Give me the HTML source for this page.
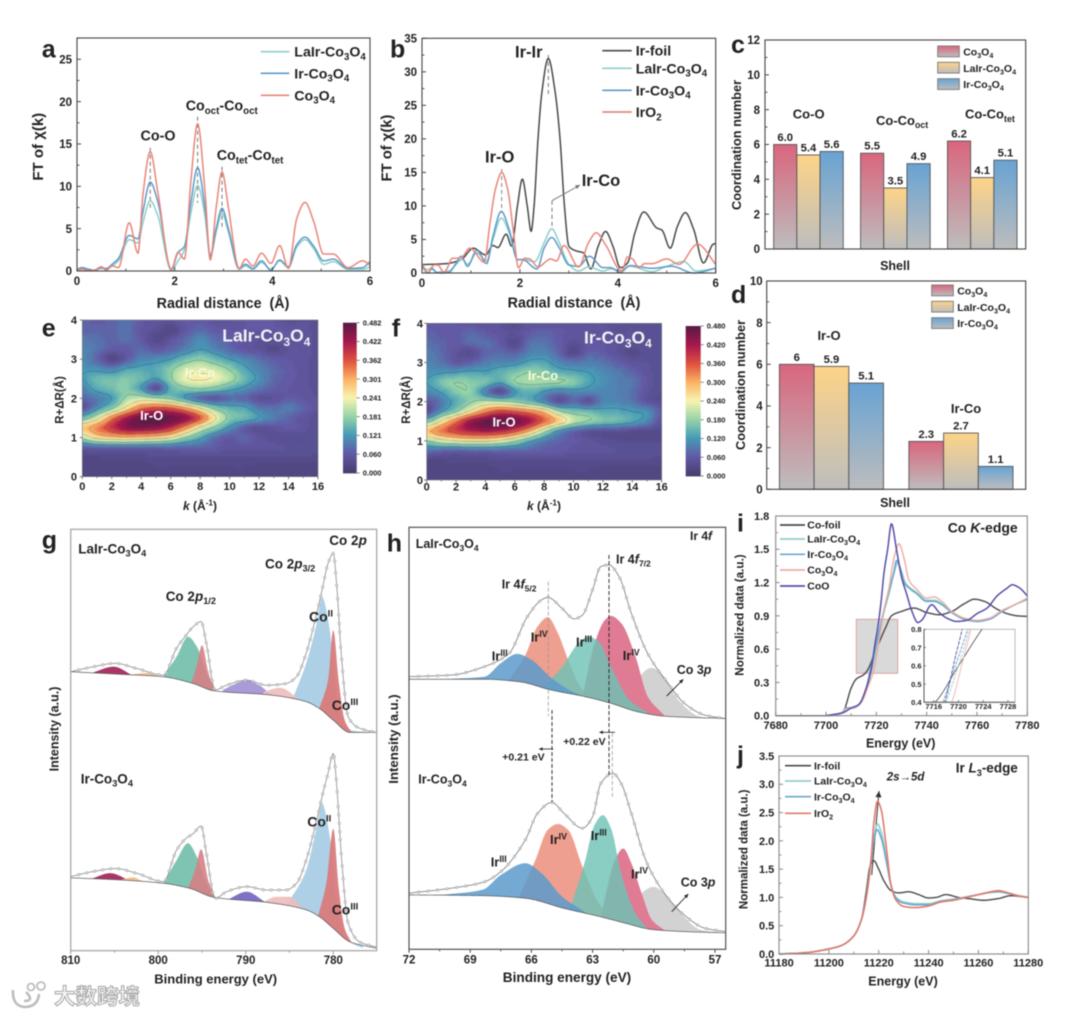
<!DOCTYPE html>
<html lang="en">
<head>
<meta charset="utf-8">
<title>Composite characterization figure</title>
<style>
html,body{margin:0;padding:0;background:#fff;width:1080px;height:1016px;overflow:hidden}
svg{display:block;filter:blur(0.4px)}
text{font-family:"Liberation Sans","Noto Sans CJK SC",sans-serif;fill:#222;white-space:pre}
</style>
</head>
<body>
<svg id="fig" xmlns="http://www.w3.org/2000/svg" width="1080" height="1016" viewBox="0 0 1080 1016">
<defs>
<linearGradient id="gradRed" x1="0" y1="0" x2="0" y2="1"><stop offset="0" stop-color="#d9667e"/><stop offset="1" stop-color="#bdbdbd"/></linearGradient>
<linearGradient id="gradYellow" x1="0" y1="0" x2="0" y2="1"><stop offset="0" stop-color="#fdd488"/><stop offset="1" stop-color="#bdbdbd"/></linearGradient>
<linearGradient id="gradBlue" x1="0" y1="0" x2="0" y2="1"><stop offset="0" stop-color="#68a3d3"/><stop offset="1" stop-color="#bdbdbd"/></linearGradient>
<filter id="heatBlur"><feGaussianBlur stdDeviation="1"/></filter>
<clipPath id="clipE"><rect x="82.3" y="320" width="235.7" height="156.7"/></clipPath>
<clipPath id="clipF"><rect x="426.7" y="323.3" width="235" height="156.7"/></clipPath>
<clipPath id="clipInset"><rect x="924" y="629.3" width="91" height="73"/></clipPath>
</defs>
</svg>
<script>
// ---------- panel a ----------
const aR = [0,.1,.25,.35,.5,.6,.72,.85,1.07,1.25,1.35,1.5,1.65,1.93,2.07,2.2,2.33,2.47,2.62,2.73,2.85,2.97,3.1,3.32,3.45,3.6,3.78,3.97,4.15,4.33,4.5,4.67,4.85,5.05,5.25,5.55,5.85,6];
const aCo3O4 = [.1,.2,.05,.1,.5,.1,.6,.4,5.7,2.1,9,14.1,9.5,.2,2.2,1.4,10.5,17.4,9.5,1.3,7.5,11.7,7.5,.3,1.4,.6,2.1,.9,3,.3,6.2,8.1,5.8,2,2,.4,1.2,.7];
const aIrCo = [.2,.4,.2,.1,.4,.3,.8,1.5,4.2,3.8,7,10.5,8.3,.2,2.2,2.9,8,12.2,7.5,1.8,5,7.4,5,.3,.8,.3,1.2,.1,1.3,.5,3.1,4,2.9,1.2,1.4,.3,.4,1.1];
const aLaIr = [.1,.3,.1,.05,.3,.2,.6,1.2,3.7,3.3,5.7,8.3,6.6,.1,1.2,2.5,6.8,10.1,6.5,1.6,4.6,6.8,4.6,.2,.6,.2,1,.2,1.2,.4,2.8,3.7,2.6,.8,1.1,.2,.2,.5];
const aXTicks = [0,2,4,6], aXMinor = [1,3,5];
const aYTicks = [0,5,10,15,20,25], aYMinor = [2.5,7.5,12.5,17.5,22.5,27.5];
// ---------- panel b ----------
const bFoil = [[0,1.25],[.5,1.4],[.8,2],[1.05,3.7],[1.3,2.7],[1.45,4.1],[1.55,3.8],[1.72,5.8],[1.83,4],[1.95,10],[2.05,14],[2.15,10],[2.23,6.2],[2.29,10],[2.37,20],[2.45,27],[2.58,32],[2.72,27],[2.82,20],[2.91,10],[3,4],[3.15,3.3],[3.3,3],[3.45,.6],[3.6,4],[3.75,6.2],[3.9,4],[4.05,.8],[4.2,1.5],[4.35,6],[4.53,9.1],[4.8,6.7],[4.9,6.4],[5.07,3.7],[5.22,7],[5.38,9],[5.55,6.5],[5.75,1.5],[5.95,4.3],[6,4.4]];
const bIrO2 = [[0,1.3],[.12,.1],[.25,1.2],[.32,1.2],[.45,.1],[.5,.5],[.62,2.2],[.7,2.2],[.82,2.4],[.97,3.7],[1.1,3],[1.15,2.4],[1.27,1.6],[1.39,7.5],[1.5,12.5],[1.63,15],[1.75,12.5],[1.87,6],[1.97,.8],[2.1,2.2],[2.2,2.1],[2.37,.9],[2.55,1.8],[2.62,2.1],[2.75,1.8],[2.9,4.1],[3.2,.9],[3.4,4.5],[3.56,6],[3.75,4.2],[4.08,.3],[4.2,2.4],[4.3,2.1],[4.43,.8],[4.55,1.4],[4.7,1.4],[5,2.1],[5.25,1.3],[5.63,4.3],[6,1.3]];
const bIrCo = [[0,1],[.12,0],[.2,.6],[.3,.1],[.4,0],[.55,.1],[.7,1.5],[.8,2.5],[.93,1],[1.12,3.4],[1.32,1.4],[1.45,5.5],[1.62,9.2],[1.78,6.5],[1.95,2],[2.05,2],[2.35,.6],[2.5,3.8],[2.65,5.3],[2.8,3.8],[3,1.2],[3.2,1],[3.42,2.5],[3.7,.8],[3.85,.8],[4.05,.1],[4.25,1.1],[4.7,.7],[5.1,1],[5.55,0],[6,.7]];
const bLaIr = [[0,.9],[.12,.5],[.2,.8],[.3,.1],[.4,.2],[.55,.3],[.7,1.3],[.82,2.1],[.93,1.3],[1.12,3],[1.32,1.8],[1.45,5],[1.62,8.2],[1.78,6],[1.95,2],[2.05,2],[2.3,1.7],[2.5,4.6],[2.65,6.6],[2.8,4.6],[3,1.3],[3.2,.3],[3.4,.9],[3.7,.3],[3.85,.6],[4.05,.4],[4.25,1],[4.7,.2],[5,1],[5.35,1.7],[5.6,.3],[6,.7]];
const bYTicks = [0,5,10,15,20,25,30,35], bYMinor = [2.5,7.5,12.5,17.5,22.5,27.5,32.5];
// ---------- panel c ----------
const cCategories = ["Co-O","Co-Co-oct","Co-Co-tet"];
const cCo3O4 = [6.0,5.5,6.2];
const cLaIr = [5.4,3.5,4.1];
const cIrCo = [5.6,4.9,5.1];
const cYTicks = [0,2,4,6,8,10,12], cYMinor = [1,3,5,7,9,11];
// ---------- panel d ----------
const dCategories = ["Ir-O","Ir-Co"];
const dCo3O4 = [6,2.3];
const dLaIr = [5.9,2.7];
const dIrCo = [5.1,1.1];
const dYTicks = [0,2,4,6,8,10], dYMinor = [1,3,5,7,9];
// ---------- panels e, f (wavelet maps, units 0.001) ----------
const mapK = [0,1,2,3,4,5,6,7,8,9,10,11,12,13,14,15,16];
const mapR = [4,3.75,3.5,3.25,3,2.75,2.5,2.25,2,1.75,1.5,1.25,1,.75,.5,.25,0];
const eZ = [
[70,60,70,80,60,50,50,60,60,50,55,55,55,55,40,45,40],
[70,70,70,80,55,40,25,55,75,60,55,55,55,55,55,50,40],
[90,80,70,80,60,30,50,75,105,80,65,55,45,45,55,50,40],
[100,85,60,60,75,55,70,95,120,100,75,55,45,30,45,50,40],
[105,70,25,60,100,105,120,155,175,150,120,100,80,60,55,50,40],
[115,110,95,125,130,135,170,215,225,210,175,130,100,75,60,50,40],
[120,150,155,165,150,120,175,235,245,235,200,150,110,75,60,50,40],
[95,135,155,170,120,40,140,170,180,165,135,110,85,65,55,50,40],
[70,90,120,190,210,190,170,120,70,50,75,70,45,45,60,55,45],
[45,110,170,260,340,370,360,310,240,170,140,130,90,80,90,70,45],
[150,220,330,420,470,480,470,440,360,250,170,150,120,90,70,50,40],
[280,330,390,440,450,440,400,320,230,170,110,60,40,50,60,50,40],
[200,260,280,290,280,270,240,180,130,80,55,70,50,40,35,40,40],
[60,70,70,70,70,70,70,70,70,60,50,50,50,50,45,45,40],
[25,25,30,30,30,35,35,35,35,35,35,35,35,35,35,35,30],
[22,22,22,22,22,25,25,25,25,25,25,25,22,22,22,22,22],
[25,25,25,25,25,25,25,25,25,25,25,25,25,25,25,25,25]];
const fZ = [
[60,60,55,50,50,45,30,50,50,50,50,45,45,40,45,40,35],
[70,60,60,75,60,50,45,60,70,60,50,50,50,45,45,40,35],
[80,70,60,75,80,60,30,80,85,60,40,55,55,45,45,40,35],
[90,75,50,35,70,75,65,95,100,70,30,65,60,45,30,40,35],
[100,85,55,65,90,100,105,130,130,100,85,95,85,65,50,45,35],
[110,115,120,130,125,140,160,180,165,140,130,120,105,90,70,50,35],
[120,160,180,170,160,130,180,190,190,185,170,130,110,95,85,55,35],
[100,125,165,175,95,35,115,145,115,90,105,100,100,95,80,50,35],
[55,90,135,175,200,190,175,145,100,45,75,45,100,100,85,50,35],
[35,115,175,255,330,375,360,330,280,190,160,150,130,130,120,110,60],
[160,250,340,430,470,480,470,420,350,280,210,180,160,150,130,100,45],
[290,340,380,410,420,410,370,300,200,110,70,45,40,40,35,35,35],
[180,220,240,250,250,230,190,130,90,70,60,50,40,35,35,35,35],
[80,70,60,70,70,70,70,70,60,60,50,50,50,45,45,40,40],
[25,25,30,30,30,35,35,35,35,35,35,35,35,35,35,35,30],
[22,22,22,22,22,25,25,25,25,25,25,25,22,22,22,22,22],
[25,25,25,25,25,25,25,25,25,25,25,25,25,25,25,25,25]];
const mapXTicks = [0,2,4,6,8,10,12,14,16], mapXMinor = [1,3,5,7,9,11,13,15];
const mapYTicks = [0,1,2,3,4];
const eBarLabels = ["0.482","0.422","0.362","0.301","0.241","0.181","0.121","0.060","0.000"];
const fBarLabels = ["0.480","0.420","0.360","0.300","0.240","0.180","0.120","0.060","0.000"];
// ---------- panel g (eV, intensity a.u. 0-100) ----------
const gTopEnv = [[810,66.2],[807.4,67.4],[804.9,68.2],[802.5,67],[799.4,65.4],[797.9,71.8],[796.8,74.9],[796,76.9],[795.1,78.1],[794.5,72.9],[793.5,61.9],[792.2,63],[789.9,64.2],[787.6,63],[785.4,63.4],[784.2,65],[783.1,70.6],[781.9,80],[781.2,86.4],[780.6,91.9],[780,94.3],[779.6,86.4],[779.1,70.6],[778.3,55.5],[777,52.8],[775.1,51.8]];
const gTopBase = [[810,66.2],[804.4,65.6],[799.4,65],[796,63.4],[793.7,61.7],[787.3,60.7],[783.1,59.1],[781.6,57.5],[780,54.7],[778.1,51.8],[775.1,51.8]];
const gTopSat1 = [[807.5,66],[805.1,67.4],[802.9,65.3]];
const gTopSat2 = [[803.2,65.5],[801.3,65.9],[799.8,65.1]];
const gTopP12a = [[799.4,65],[797.9,69.8],[796.6,74.5],[795.6,72.2],[794.5,65.8],[793.5,61.7]];
const gTopP12b = [[796.2,63.6],[795.6,67.7],[795,72.5],[794.3,66.2],[793.5,61.7]];
const gTopSat3 = [[792.6,61.9],[791.1,63.4],[789.9,64.2],[788.4,62.9],[787.1,60.7]];
const gTopSat4 = [[788,61.4],[786.1,62.4],[783.8,59.5]];
const gTopCoII = [[784.6,60],[783.1,68.2],[781.9,77.7],[781.3,84],[780.4,76.1],[779.5,57.9],[778.1,52.4],[776.2,51.8]];
const gTopCoIII = [[781.6,57.5],[780.6,64.2],[780,76.1],[779.4,64.2],[778.7,54.7],[777.9,51.8]];
const gBotEnv = [[810,17.6],[807.4,18.8],[804.9,19.5],[802.5,18.4],[799.4,16.4],[797.9,23.9],[796.8,26.7],[796,27.8],[795.1,29.6],[794.5,23.1],[793.5,12.4],[792.2,14],[789.9,15.2],[787.6,14.4],[785.4,14.4],[784.2,16],[783.1,21.5],[781.9,31],[781.2,37.3],[780.6,42.1],[780,46.8],[779.6,38.9],[779.1,23.1],[778.3,6.5],[777,2.1],[775.1,.9]];
const gBotBase = [[810,17.3],[804.4,16.8],[799.4,16],[796.4,14.8],[793.7,12.7],[787.3,11.4],[783.1,9.7],[781.6,8.1],[780,5.3],[778.1,2.1],[775.1,.6]];
const gBotSat1 = [[807.6,17.1],[805.5,18.4],[803.2,16.6]];
const gBotSat2 = [[804.4,16.8],[802.9,17.4],[801.7,16.4]];
const gBotP12a = [[799.4,16],[797.9,21.5],[796.6,25.5],[795.6,22.3],[794.5,16],[793.5,12.7]];
const gBotP12b = [[796.6,14.7],[795.8,19.1],[795.1,24.1],[794.3,16.8],[793.5,12.6]];
const gBotSat3 = [[792,12.2],[789.9,14],[787.8,11.6]];
const gBotSat4 = [[788,11.6],[786.5,12.8],[785,12.8],[783.5,10]];
const gBotCoII = [[785.2,11.2],[783.1,19.1],[781.9,29.4],[781.3,35],[780.4,27.1],[779.5,8.9],[778.1,2.1],[776.6,.6]];
const gBotCoIII = [[781.7,8.5],[780.8,16],[780,29],[779.4,15.2],[778.7,5.3],[777.9,1.9]];
const gXTicks = [810,800,790,780], gXMinor = [805,795,785];
// ---------- panel h (eV, intensity a.u. 0-100) ----------
const hTopEnv = [[72,64.6],[69.9,65],[68.3,67],[67.1,70.1],[66.2,78.8],[65.5,82.8],[65.2,83.4],[64.5,80.8],[63.9,78.3],[63.5,79.2],[63,85.2],[62.6,90.7],[62.2,91.1],[61.7,88.3],[61.1,79.6],[60.3,70.1],[59.3,63],[58.5,58.3],[57.5,55.5],[56.5,54.7]];
const hTopBase = [[72,64],[68.3,64],[66.6,63.4],[65,61.4],[63.4,59.9],[62.1,58.3],[60.8,56.3],[59.6,55.3],[58.5,55],[56.5,54.7]];
const hTopIr3a = [[69.9,64.1],[68.3,64.6],[67.5,67.8],[66.7,70],[66,68.6],[65,64.2],[64,61.1],[63.4,59.9]];
const hTopIr4a = [[67.1,63.7],[66.3,69.7],[65.7,76.5],[65.2,78.7],[64.7,74.9],[64.2,68.6],[63.5,61.5],[62.7,59.1]];
const hTopIr3b = [[65.5,61.8],[64.5,66.9],[63.7,72.5],[63.2,74.1],[62.7,72.9],[62.1,67],[61.2,59.1],[60.3,56.1]];
const hTopIr4b = [[63.5,59.9],[62.9,72.5],[62.4,78],[62.1,79],[61.6,77.3],[60.9,69.4],[60.3,59.9],[59.5,55.5]];
const hTopCo3p = [[61.2,57.1],[60.7,64.6],[60.1,66.7],[59.5,64.6],[58.8,59.1],[57.7,55.1],[56.8,54.7]];
const hBotEnv = [[72,13.3],[69.9,14.5],[68.3,16],[67.5,18.4],[66.3,25.9],[65.7,32.2],[65,34.8],[64.4,32.2],[63.5,28.7],[63,31.4],[62.6,39.3],[62,41.7],[61.6,39.3],[61.1,32.2],[60.4,21.2],[59.6,14.1],[58.5,8.1],[57.5,5],[56.5,4.2]];
const hBotBase = [[72,12.9],[68.3,12.7],[66.3,12.1],[64.4,9.7],[62.6,7.7],[61.4,6.2],[60.1,4.7],[58.5,4.2],[56.5,3.9]];
const hBotIr3a = [[70.4,12.9],[68.4,14.1],[67.5,17.6],[66.3,20.4],[65.5,18],[64.5,12.5],[63.4,8.9]];
const hBotIr4a = [[66.6,12.5],[65.8,21.2],[65.2,28.3],[64.7,29.7],[64.2,28.3],[63.5,19.6],[62.7,10.9],[62.1,7.3]];
const hBotIr3b = [[64.1,9.7],[63.4,20.4],[62.9,29.5],[62.5,31.8],[62.1,28.7],[61.6,18],[60.9,8.5],[60.3,4.9]];
const hBotIr4b = [[62.6,7.7],[61.9,21.2],[61.5,23.9],[61.1,20.4],[60.6,13.3],[60.1,7],[59.5,4.6]];
const hBotCo3p = [[61.2,6.2],[60.6,13.3],[60,14.8],[59.5,13.3],[58.8,9.3],[57.7,4.6],[56.8,4]];
const hXTicks = [72,69,66,63,60,57], hXMinor = [70.5,67.5,64.5,61.5,58.5];
// ---------- panel i ----------
const iFoil = [[7680,0],[7700,0],[7707,.03],[7708,.1],[7710,.25],[7712,.33],[7715,.37],[7716.2,.4],[7720,.6],[7723.8,.8],[7726,.9],[7730,.94],[7735,.97],[7740,.93],[7745,.91],[7750,.94],[7755,1.01],[7759,1.05],[7763,1.03],[7768,.96],[7772,.92],[7776,.9],[7780,.895]];
const iLaIr = [[7700,0],[7706,.02],[7708,.06],[7711,.07],[7714,.12],[7716,.24],[7718,.4],[7720,.6],[7721.8,.8],[7723,.93],[7725,1.1],[7727,1.28],[7728.5,1.38],[7730,1.3],[7731.5,1.2],[7733,1.16],[7736,1.11],[7740,1.04],[7743,1.04],[7746,1.01],[7750,.93],[7755,.87],[7760,.85],[7765,.87],[7770,.94],[7775,1],[7780,1.05]];
const iIrCo = [[7700,0],[7706,.02],[7708,.07],[7711,.07],[7714,.13],[7716,.25],[7717.5,.4],[7719.5,.6],[7721.5,.8],[7723,.95],[7725,1.12],[7727,1.3],[7728,1.4],[7729.5,1.33],[7731,1.2],[7733,1.15],[7736,1.1],[7740,1.03],[7743,1.03],[7746,1],[7750,.93],[7755,.87],[7760,.85],[7765,.87],[7770,.94],[7775,1],[7780,1.05]];
const iCo3O4 = [[7700,0],[7706,.02],[7708,.06],[7711,.07],[7714,.12],[7717,.28],[7718.9,.4],[7720.5,.6],[7722,.8],[7723,.95],[7725,1.15],[7727,1.42],[7729,1.55],[7731,1.42],[7733,1.22],[7736,1.14],[7740,1.06],[7743,1.07],[7746,1.03],[7750,.94],[7755,.88],[7760,.86],[7765,.88],[7770,.95],[7775,1],[7780,1.06]];
const iCoO = [[7700,0],[7707,.03],[7710,.07],[7713,.1],[7716,.25],[7717.8,.4],[7719.5,.65],[7720.6,.8],[7722,1.05],[7723,1.28],[7724.5,1.5],[7726,1.73],[7728,1.5],[7730,1.25],[7732,1.1],[7734,.95],[7736.5,.84],[7738,.86],[7742,1],[7745,.93],[7748,.88],[7752,.85],[7756,.86],[7760,.92],[7764,.97],[7768,1.08],[7772,1.15],[7774,1.18],[7777,1.15],[7780,1.08]];
const iXTicks = [7680,7700,7720,7740,7760,7780], iXMinor = [7690,7710,7730,7750,7770];
const iYTicks = [0,.3,.6,.9,1.2,1.5,1.8], iYMinor = [.15,.45,.75,1.05,1.35,1.65];
const insetXTicks = [7716,7720,7724,7728];
const insetYTicks = [.4,.5,.6,.7,.8];
// ---------- panel j ----------
const jFoil = [[11180,0],[11190,.02],[11200,.09],[11205,.15],[11210,.32],[11213,.6],[11215,1.1],[11216.5,1.55],[11218,1.65],[11220,1.5],[11222,1.3],[11225,1.12],[11228,1.08],[11232,1.1],[11236,1.05],[11240,.99],[11243,1],[11247,1.05],[11252,1],[11256,.98],[11262,.95],[11268,.98],[11273,1.03],[11280,1]];
const jLaIr = [[11180,0],[11190,.02],[11200,.09],[11205,.15],[11210,.32],[11213,.6],[11215,1],[11217,1.7],[11218,2.05],[11219.5,2.3],[11221,2.15],[11223,1.7],[11225,1.2],[11227,1],[11230,.92],[11235,.89],[11240,.89],[11245,.94],[11250,.97],[11255,1.01],[11260,1.05],[11265,1.09],[11268,1.1],[11272,1.07],[11276,1.03],[11280,1]];
const jIrCo = [[11180,0],[11190,.02],[11200,.09],[11205,.15],[11210,.32],[11213,.6],[11215,1],[11217,1.65],[11218,1.98],[11219.3,2.2],[11221,2.05],[11223,1.65],[11225,1.2],[11227,.98],[11230,.9],[11235,.87],[11240,.87],[11245,.93],[11250,.96],[11255,1],[11260,1.05],[11265,1.09],[11268,1.1],[11272,1.07],[11276,1.03],[11280,1]];
const jIrO2 = [[11180,0],[11190,.02],[11200,.09],[11205,.15],[11210,.32],[11213,.6],[11215,1],[11217,1.7],[11218,2.3],[11219.5,2.7],[11221,2.55],[11223,1.9],[11225,1.2],[11227,.95],[11230,.84],[11235,.82],[11240,.85],[11245,.92],[11250,.95],[11255,1],[11260,1.05],[11265,1.1],[11268,1.12],[11272,1.08],[11276,1.03],[11280,1]];
const jXTicks = [11180,11200,11220,11240,11260,11280], jXMinor = [11190,11210,11230,11250,11270];
const jYTicks = [0,.5,1,1.5,2,2.5,3,3.5], jYMinor = [.25,.75,1.25,1.75,2.25,2.75,3.25];

// ---------- helpers ----------
const NS = "http://www.w3.org/2000/svg";
const fig = document.getElementById("fig");
const TEAL = "#8ccfca", BLUE = "#5f9ac8", RED = "#e8867a", DARK = "#4a4a4a";
function mk(tag, parent, attrs, name){
  const el = document.createElementNS(NS, tag);
  for (const k in attrs) el.setAttribute(k, attrs[k]);
  
  
  parent.appendChild(el);
  return el;
}
function grp(parent, name, attrs){ return mk("g", parent, attrs || {}, name); }
function scale(d0, d1, r0, r1){ return v => r0 + (v - d0) * (r1 - r0) / (d1 - d0); }
// rich text: _{sub} ^{sup} *italic*
function label(parent, name, str, x, y, size, o){
  o = o || {};
  const t = mk("text", parent, {x: x, y: y, "font-size": size, "font-weight": o.weight || "bold", "text-anchor": o.anchor || "start"}, name);
  if (o.fill) t.style.fill = o.fill;
  if (o.rotate) t.setAttribute("transform", "rotate(-90 " + x + " " + y + ")");
  let off = 0;
  const toks = str.match(/_\{[^}]*\}|\^\{[^}]*\}|\*[^*]+\*|[^_^*]+/g) || [];
  toks.forEach(tok => {
    let txt = tok, tgt = 0, fs = size, st = "normal";
    if (tok[0] === "_") { txt = tok.slice(2, -1); tgt = size * .24; fs = size * .68; }
    else if (tok[0] === "^") { txt = tok.slice(2, -1); tgt = -size * .36; fs = size * .68; }
    else if (tok[0] === "*") { txt = tok.slice(1, -1); st = "italic"; }
    const s = document.createElementNS(NS, "tspan");
    s.setAttribute("dy", (tgt - off).toFixed(2));
    s.setAttribute("font-size", fs.toFixed(2));
    s.setAttribute("font-style", st);
    s.textContent = txt;
    t.appendChild(s);
    off = tgt;
  });
  return t;
}
function mono(P){
  const n = P.length, h = [], d = [], m = [];
  for (let i = 0; i < n - 1; i++){ h[i] = P[i+1][0] - P[i][0]; d[i] = (P[i+1][1] - P[i][1]) / h[i]; }
  m[0] = d[0]; m[n-1] = d[n-2];
  for (let i = 1; i < n - 1; i++){
    if (d[i-1] * d[i] <= 0) m[i] = 0;
    else m[i] = 3 * (h[i-1] + h[i]) / ((2 * h[i] + h[i-1]) / d[i-1] + (h[i] + 2 * h[i-1]) / d[i]);
  }
  return x => {
    let i = 0;
    if (x <= P[0][0]) return P[0][1];
    if (x >= P[n-1][0]) return P[n-1][1];
    while (i < n - 2 && x > P[i+1][0]) i++;
    const t = (x - P[i][0]) / h[i], t2 = t * t, t3 = t2 * t;
    return (2*t3 - 3*t2 + 1) * P[i][1] + (t3 - 2*t2 + t) * h[i] * m[i] + (-2*t3 + 3*t2) * P[i+1][1] + (t3 - t2) * h[i] * m[i+1];
  };
}
function toPx(pts, sx, sy){
  const p = pts.map(q => [sx(q[0]), sy(q[1])]).sort((a, b) => a[0] - b[0]);
  return p.filter((q, i) => i === 0 || q[0] > p[i-1][0]);
}
function sample(pts, sx, sy, step){
  const p = toPx(pts, sx, sy), f = mono(p), out = [];
  const x0 = p[0][0], x1 = p[p.length-1][0];
  for (let x = x0; x < x1; x += step || .6) out.push([x, f(x)]);
  out.push([x1, f(x1)]);
  return out;
}
function pathD(s){ return "M" + s.map(q => q[0].toFixed(2) + " " + q[1].toFixed(2)).join("L"); }
function line(parent, name, pts, sx, sy, color, w, extra){
  return mk("path", parent, Object.assign({d: pathD(sample(pts, sx, sy)), fill: "none", stroke: color, "stroke-width": w || 1.5, "stroke-linejoin": "round"}, extra || {}), name);
}
function straight(parent, name, x1, y1, x2, y2, color, w, dash){
  const a = {x1: x1, y1: y1, x2: x2, y2: y2, stroke: color, "stroke-width": w || 1};
  if (dash) a["stroke-dasharray"] = dash;
  return mk("line", parent, a, name);
}
function arrow(parent, name, x1, y1, x2, y2, color, w, head){
  const g = grp(parent, name);
  straight(g, name + "-shaft", x1, y1, x2, y2, color, w || 1);
  const a = Math.atan2(y2 - y1, x2 - x1), L = head || 5;
  const p = [[x2, y2], [x2 - L*Math.cos(a - .45), y2 - L*Math.sin(a - .45)], [x2 - L*Math.cos(a + .45), y2 - L*Math.sin(a + .45)]];
  mk("polygon", g, {points: p.map(q => q.join(",")).join(" "), fill: color}, name + "-head");
}
function axes(g, o){
  const fr = o.frame || "#444";
  mk("rect", g, {x: o.x0, y: o.yT, width: o.x1 - o.x0, height: o.yB - o.yT, fill: "none", stroke: fr, "stroke-width": o.fw || 1.1}, "plot-frame");
  const dir = o.out ? 1 : -1, L = o.major || 4, lm = o.minor || 2.5;
  (o.xTicks || []).forEach(v => {
    straight(g, "x-axis-tick", o.sx(v), o.yB, o.sx(v), o.yB + dir * L, fr, 1);
    label(g, "x-tick-label", o.xFmt ? o.xFmt(v) : String(v), o.sx(v), o.xLabY, o.size, {anchor: "middle"});
  });
  (o.xMinor || []).forEach(v => straight(g, "x-axis-minor-tick", o.sx(v), o.yB, o.sx(v), o.yB + dir * lm, fr, .9));
  (o.yTicks || []).forEach(v => {
    straight(g, "y-axis-tick", o.x0, o.sy(v), o.x0 - dir * L, o.sy(v), fr, 1);
    label(g, "y-tick-label", o.yFmt ? o.yFmt(v) : String(v), o.yLabX, o.sy(v) + o.size * .36, o.size, {anchor: "end"});
  });
  (o.yMinor || []).forEach(v => straight(g, "y-axis-minor-tick", o.x0, o.sy(v), o.x0 - dir * lm, o.sy(v), fr, .9));
}
function legendLine(g, x0, x1, y, tx, str, color, size){
  straight(g, "legend-line", x0, y, x1, y, color, 1.7);
  label(g, "legend-entry", str, tx, y + size * .35, size);
}

// ---------- panel letters ----------
const letters = [["a",41.7,57.7],["b",390,57.7],["c",731,53],["d",731,303],["e",41.7,336.7],["f",391.7,336.7],["g",41.7,548.3],["h",386.7,551.7],["i",737,531.7],["j",737,763.3]];

// ---------- a ----------
(function(){
  const g = grp(fig, "panel-a-ft-exafs-co");
  const sx = scale(0, 6, 77, 370), sy = scale(0, 25, 271, 59.3);
  [[147.7,210.7,1.5],[116.7,202.7,2.47],[166.7,230,2.97]].forEach(r => straight(g, "peak-guide-line", sx(r[2]), r[0], sx(r[2]), r[1], "#666", .9, "4 3"));
  line(g, "lair-co3o4-line", aR.map((x, i) => [x, aLaIr[i]]), sx, sy, TEAL);
  line(g, "ir-co3o4-line", aR.map((x, i) => [x, aIrCo[i]]), sx, sy, BLUE);
  line(g, "co3o4-line", aR.map((x, i) => [x, aCo3O4[i]]), sx, sy, RED);
  axes(g, {x0: 77, x1: 370, yT: 38, yB: 271, sx, sy, xTicks: aXTicks, xMinor: aXMinor, yTicks: aYTicks, yMinor: aYMinor, xLabY: 285, yLabX: 72, size: 11.5});
  label(g, "x-axis-title", "Radial distance  (Å)", 223, 308, 14.3, {anchor: "middle"});
  label(g, "y-axis-title", "FT of χ(k)", 43, 146.7, 15, {anchor: "middle", rotate: true});
  legendLine(g, 260.7, 289.3, 51.7, 294.3, "LaIr-Co_{3}O_{4}", TEAL, 14.2);
  legendLine(g, 260.7, 289.3, 73.3, 294.3, "Ir-Co_{3}O_{4}", BLUE, 14.2);
  legendLine(g, 260.7, 289.3, 95.3, 294.3, "Co_{3}O_{4}", RED, 14.2);
  label(g, "peak-label-co-o", "Co-O", 158, 140.7, 14.3, {anchor: "middle"});
  label(g, "peak-label-co-oct", "Co_{oct}-Co_{oct}", 185.7, 110.7, 14.3);
  label(g, "peak-label-co-tet", "Co_{tet}-Co_{tet}", 216.7, 160, 14.3);
})();

// ---------- b ----------
(function(){
  const g = grp(fig, "panel-b-ft-exafs-ir");
  const sx = scale(0, 6, 422, 715.7), sy = scale(0, 35, 273, 38.3);
  straight(g, "peak-guide-line", 548.3, 55, 548.3, 95, "#666", .9, "4 3");
  straight(g, "peak-guide-line", 501.7, 169, 501.7, 213, "#777", .9, "4 3");
  straight(g, "peak-guide-line", 552, 200.7, 552, 226.7, "#666", .9, "4 3");
  line(g, "ir-foil-line", bFoil, sx, sy, DARK);
  line(g, "lair-co3o4-line", bLaIr, sx, sy, TEAL);
  line(g, "ir-co3o4-line", bIrCo, sx, sy, BLUE);
  line(g, "iro2-line", bIrO2, sx, sy, RED);
  axes(g, {x0: 422, x1: 715.7, yT: 38.3, yB: 273, sx, sy, xTicks: aXTicks, xMinor: aXMinor, yTicks: bYTicks, yMinor: bYMinor, xLabY: 287, yLabX: 417, size: 11.5});
  label(g, "x-axis-title", "Radial distance  (Å)", 574, 307.7, 14.3, {anchor: "middle"});
  label(g, "y-axis-title", "FT of χ(k)", 391.7, 148, 14.8, {anchor: "middle", rotate: true});
  legendLine(g, 602.3, 631.7, 50.7, 635.7, "Ir-foil", DARK, 14.2);
  legendLine(g, 602.3, 631.7, 68.3, 635.7, "LaIr-Co_{3}O_{4}", TEAL, 14.2);
  legendLine(g, 602.3, 631.7, 90.3, 635.7, "Ir-Co_{3}O_{4}", BLUE, 14.2);
  legendLine(g, 602.3, 631.7, 112, 635.7, "IrO_{2}", RED, 14.2);
  label(g, "peak-label-ir-ir", "Ir-Ir", 515, 57.3, 16.5);
  label(g, "peak-label-ir-o", "Ir-O", 485, 162.7, 16.5);
  label(g, "peak-label-ir-co", "Ir-Co", 581.7, 186, 16.5);
  arrow(g, "ir-co-arrow", 552, 200.7, 580, 185, "#777", 1, 5);
})();

// ---------- bars ----------
function barPanel(name, o){
  const g = grp(fig, name);
  const band = (o.x1 - o.x0) / o.cats.length;
  const sy = scale(0, o.yMax, o.yB, o.yT);
  const sc = i => o.x0 + band * (i + .5);
  o.series.forEach((s, j) => {
    s.vals.forEach((v, i) => {
      const x = sc(i) + (j - 1.5) * o.bw;
      mk("rect", g, {x: x, y: sy(v), width: o.bw, height: o.yB - sy(v), fill: s.fill, stroke: "#555", "stroke-width": .9}, "bar-" + s.key + "-" + o.cats[i].toLowerCase());
      label(g, "bar-value-label", o.fmt(v), x + o.bw / 2, sy(v) - 3.5, 11.3, {anchor: "middle"});
    });
  });
  axes(g, {x0: o.x0, x1: o.x1, yT: o.yT, yB: o.yB, sx: v => v, sy, yTicks: o.yTicks, yMinor: o.yMinor, yLabX: o.yLabX, size: 11.5});
  o.series.forEach((s, j) => {
    const y = o.legY[j];
    mk("rect", g, {x: o.legX, y: y, width: 21.6, height: 10.8, fill: s.fill, stroke: "#777", "stroke-width": .9}, "legend-swatch-" + s.key);
    label(g, "legend-entry", s.label, o.legX + 25.5, y + 9.5, 10.5);
  });
  return g;
}
(function(){
  const g = barPanel("panel-c-coordination-co", {x0: 765, x1: 1025.7, yT: 40, yB: 249, yMax: 12, bw: 23.2, cats: cCategories, fmt: v => v.toFixed(1), yTicks: cYTicks, yMinor: cYMinor, yLabX: 760, legX: 937.7, legY: [46, 62.3, 78.7],
    series: [{key: "co3o4", vals: cCo3O4, fill: "url(#gradRed)", label: "Co_{3}O_{4}"}, {key: "lair", vals: cLaIr, fill: "url(#gradYellow)", label: "LaIr-Co_{3}O_{4}"}, {key: "ir", vals: cIrCo, fill: "url(#gradBlue)", label: "Ir-Co_{3}O_{4}"}]});
  label(g, "y-axis-title", "Coordination number", 741, 145, 12.8, {anchor: "middle", rotate: true});
  label(g, "x-axis-title", "Shell", 895, 270, 12.5, {anchor: "middle"});
  label(g, "group-label-co-o", "Co-O", 808.7, 118.3, 13, {anchor: "middle"});
  label(g, "group-label-co-oct", "Co-Co_{oct}", 876, 125, 13);
  label(g, "group-label-co-tet", "Co-Co_{tet}", 965, 118.7, 13);
})();
(function(){
  const g = barPanel("panel-d-coordination-ir", {x0: 766.7, x1: 1025.7, yT: 281, yB: 489.3, yMax: 10, bw: 34.7, cats: dCategories, fmt: v => String(v), yTicks: dYTicks, yMinor: dYMinor, yLabX: 762.7, legX: 931.7, legY: [285, 301.3, 317.7],
    series: [{key: "co3o4", vals: dCo3O4, fill: "url(#gradRed)", label: "Co_{3}O_{4}"}, {key: "lair", vals: dLaIr, fill: "url(#gradYellow)", label: "LaIr-Co_{3}O_{4}"}, {key: "ir", vals: dIrCo, fill: "url(#gradBlue)", label: "Ir-Co_{3}O_{4}"}]});
  label(g, "y-axis-title", "Coordination number", 745, 385, 12.8, {anchor: "middle", rotate: true});
  label(g, "x-axis-title", "Shell", 895, 507, 12.5, {anchor: "middle"});
  label(g, "group-label-ir-o", "Ir-O", 829, 340, 13, {anchor: "middle"});
  label(g, "group-label-ir-co", "Ir-Co", 966, 413, 13, {anchor: "middle"});
})();

// ---------- heatmaps ----------
const cmap = [[0,72,62,112],[.125,98,90,165],[.25,70,155,183],[.375,150,212,168],[.5,247,244,176],[.625,251,179,101],[.75,224,83,63],[.875,168,24,79],[1,92,26,68]];
function cmapColor(f){
  f = Math.max(0, Math.min(1, f));
  let i = 0;
  while (i < cmap.length - 2 && f > cmap[i+1][0]) i++;
  const a = cmap[i], b = cmap[i+1], t = (f - a[0]) / (b[0] - a[0]);
  return "rgb(" + [1,2,3].map(c => Math.round(a[c] + (b[c] - a[c]) * t)).join(",") + ")";
}
function cr(p0, p1, p2, p3, t){ return .5 * (2*p1 + (-p0 + p2)*t + (2*p0 - 5*p1 + 4*p2 - p3)*t*t + (-p0 + 3*p1 - 3*p2 + p3)*t*t*t); }
function heatAt(Z, cf, rf){
  const R = Z.length - 1, C = Z[0].length - 1;
  const ci = Math.min(Math.floor(cf), C - 1), ri = Math.min(Math.floor(rf), R - 1), ct = cf - ci, rt = rf - ri;
  const col = [];
  for (let j = -1; j <= 2; j++){
    const r = Z[Math.max(0, Math.min(R, ri + j))];
    col.push(cr(r[Math.max(0, ci - 1)], r[ci], r[ci + 1], r[Math.min(C, ci + 2)], ct));
  }
  return cr(col[0], col[1], col[2], col[3], rt);
}
function heatPanel(name, o){
  const g = grp(fig, name);
  const sx = scale(0, 16, o.x0, o.x1), sy = scale(0, 4, o.yB, o.yT);
  const clip = grp(g, "wavelet-map-clip", {"clip-path": "url(#" + o.clip + ")"});
  const cells = grp(clip, "wavelet-map-cells", {filter: "url(#heatBlur)"});
  const cs = 3, nx = Math.ceil((o.x1 - o.x0) / cs) + 2, ny = Math.ceil((o.yB - o.yT) / cs) + 2, grid = [];
  const rowOf = r => (mapR[0] - r) / (mapR[0] - mapR[1]);
  const colOf = k => (k - mapK[0]) / (mapK[1] - mapK[0]);
  const invx = scale(o.x0, o.x1, 0, 16), invy = scale(o.yB, o.yT, 0, 4);
  for (let j = 0; j < ny; j++){
    grid.push([]);
    for (let i = 0; i < nx; i++){
      const px = o.x0 - cs + i * cs, py = o.yT - cs + j * cs;
      const k = Math.max(0, Math.min(16, invx(px))), r = Math.max(0, Math.min(4, invy(py)));
      const v = Math.max(0, heatAt(o.Z, colOf(k), rowOf(r)));
      grid[j].push(v);
      const q = Math.round(v / 10) * 10;
      const c = mk("rect", cells, {x: px - cs/2, y: py - cs/2, width: cs + .6, height: cs + .6, fill: cmapColor(q / 480)}, "heatmap-cell");
    }
  }
  const cont = grp(clip, "contour-lines");
  [120, 180, 240, 300, 360, 420].forEach(L => {
    let d = "";
    for (let j = 0; j < ny - 1; j++) for (let i = 0; i < nx - 1; i++){
      const X = o.x0 - cs + i * cs, Y = o.yT - cs + j * cs;
      const a = grid[j][i], b = grid[j][i+1], c = grid[j+1][i+1], e = grid[j+1][i], P = [];
      if ((a - L) * (b - L) < 0) P.push([X + cs * (L - a) / (b - a), Y]);
      if ((b - L) * (c - L) < 0) P.push([X + cs, Y + cs * (L - b) / (c - b)]);
      if ((e - L) * (c - L) < 0) P.push([X + cs * (L - e) / (c - e), Y + cs]);
      if ((a - L) * (e - L) < 0) P.push([X, Y + cs * (L - a) / (e - a)]);
      if (P.length >= 2) d += "M" + P[0][0].toFixed(1) + " " + P[0][1].toFixed(1) + "L" + P[1][0].toFixed(1) + " " + P[1][1].toFixed(1);
      if (P.length === 4) d += "M" + P[2][0].toFixed(1) + " " + P[2][1].toFixed(1) + "L" + P[3][0].toFixed(1) + " " + P[3][1].toFixed(1);
    }
    mk("path", cont, {d: d, fill: "none", stroke: "#2d2d3a", "stroke-width": .5, "stroke-opacity": .45}, "contour-level");
  });
  axes(g, {x0: o.x0, x1: o.x1, yT: o.yT, yB: o.yB, sx, sy, xTicks: mapXTicks, xMinor: mapXMinor, yTicks: mapYTicks, xLabY: o.xLabY, yLabX: o.yLabX, size: 11, frame: "#777", fw: .6, out: true, major: 2.5, minor: 1.5});
  label(g, "x-axis-title", "*k* (Å^{-1})", o.kx, 510, 12, {anchor: "middle"});
  label(g, "y-axis-title", "R+ΔR(Å)", o.ytx, 400, 11.5, {anchor: "middle", rotate: true});
  // colour bar
  const bar = grp(g, "colorbar");
  const n = 60, bh = (o.cbB - o.cbT) / n;
  for (let i = 0; i < n; i++) mk("rect", bar, {x: o.cbX, y: o.cbT + i * bh, width: o.cbW, height: bh + .4, fill: cmapColor(1 - i / (n - 1))}, "colorbar-swatch");
  o.barLabels.forEach((t, i) => {
    const y = o.cbT + i * (o.cbB - o.cbT) / (o.barLabels.length - 1);
    straight(bar, "colorbar-tick", o.cbX + o.cbW, y, o.cbX + o.cbW + 3, y, "#555", .7);
    label(bar, "colorbar-tick-label", t, o.cbX + o.cbW + 6, y + 2.7, 7.5);
  });
  return g;
}
(function(){
  const g = heatPanel("panel-e-wavelet-lair", {x0: 82.3, x1: 318, yT: 320, yB: 476.7, Z: eZ, clip: "clipE", xLabY: 490, yLabX: 77, kx: 200, ytx: 63.3, cbX: 343, cbW: 13.7, cbT: 322.7, cbB: 473, barLabels: eBarLabels});
  label(g, "map-title", "LaIr-Co_{3}O_{4}", 222.3, 341.7, 17.5, {fill: "#f2f2f2"});
  label(g, "map-label-ir-co", "Ir-Co", 200, 377, 13, {anchor: "middle", fill: "#f4fbdc"});
  label(g, "map-label-ir-o", "Ir-O", 151.7, 420, 13, {anchor: "middle", fill: "#fff"});
})();
(function(){
  const g = heatPanel("panel-f-wavelet-ir", {x0: 426.7, x1: 661.7, yT: 323.3, yB: 480, Z: fZ, clip: "clipF", xLabY: 490.7, yLabX: 423, kx: 544, ytx: 410, cbX: 685.7, cbW: 15, cbT: 326, cbB: 476, barLabels: fBarLabels});
  label(g, "map-title", "Ir-Co_{3}O_{4}", 584, 343.3, 17.5, {fill: "#f2f2f2"});
  label(g, "map-label-ir-co", "Ir-Co", 543, 380, 13, {anchor: "middle", fill: "#f4fbdc"});
  label(g, "map-label-ir-o", "Ir-O", 504, 426.7, 13, {anchor: "middle", fill: "#fff"});
})();

// ---------- XPS ----------
function peak(parent, name, pts, base, sx, sy, color, op){
  const s = sample(pts, sx, sy, .8);
  const bp = toPx(base, sx, sy), f = mono(bp);
  const back = s.slice().reverse().map(q => [q[0], f(q[0])]);
  return mk("path", parent, {d: pathD(s.concat(back)) + "Z", fill: color, "fill-opacity": op === undefined ? 1 : op}, name);
}
function envelope(parent, name, pts, sx, sy, every, stroke){
  const s = sample(pts, sx, sy, .5);
  const g = grp(parent, name);
  mk("path", g, {d: pathD(s), fill: "none", stroke: stroke, "stroke-width": .8}, "fit-line");
  let acc = 0;
  for (let i = 1; i < s.length; i++){
    acc += Math.hypot(s[i][0] - s[i-1][0], s[i][1] - s[i-1][1]);
    if (acc >= every){
      acc = 0;
      mk("circle", g, {cx: s[i][0], cy: s[i][1], r: 1.3, fill: "#fff", "fill-opacity": .5, stroke: "#aaa", "stroke-width": .6}, "data-marker");
    }
  }
}
(function(){
  const g = grp(fig, "panel-g-xps-co2p");
  const sx = scale(810, 780, 70.7, 333.3), sy = scale(0, 100, 950.7, 529.3);
  const tops = grp(g, "lair-spectrum"), bots = grp(g, "ir-spectrum");
  const draw = (p, A) => {
    peak(p, "peak-coii", A.coii, A.base, sx, sy, "#aed0e6");
    peak(p, "peak-2p12-a", A.a, A.base, sx, sy, "#7fc4b2");
    peak(p, "peak-2p12-b", A.b, A.base, sx, sy, "#d67f85", .9);
    peak(p, "peak-satellite-1", A.s1, A.base, sx, sy, "#a62a5f", .95);
    peak(p, "peak-satellite-2", A.s2, A.base, sx, sy, "#f0c090");
    peak(p, "peak-satellite-3", A.s3, A.base, sx, sy, A.c3);
    peak(p, "peak-satellite-4", A.s4, A.base, sx, sy, "#eebcbc", .9);
    peak(p, "peak-coiii", A.coiii, A.base, sx, sy, "#d97b7c", .95);
    line(p, "shirley-baseline", A.base, sx, sy, "#555", .7);
    envelope(p, "envelope", A.env, sx, sy, 8, "#8a8a8a");
  };
  draw(tops, {base: gTopBase, env: gTopEnv, s1: gTopSat1, s2: gTopSat2, a: gTopP12a, b: gTopP12b, s3: gTopSat3, s4: gTopSat4, coii: gTopCoII, coiii: gTopCoIII, c3: "#a99bd8"});
  draw(bots, {base: gBotBase, env: gBotEnv, s1: gBotSat1, s2: gBotSat2, a: gBotP12a, b: gBotP12b, s3: gBotSat3, s4: gBotSat4, coii: gBotCoII, coiii: gBotCoIII, c3: "#7d72c6"});
  axes(g, {x0: 70.7, x1: 376.7, yT: 529.3, yB: 950.7, sx, sy, xTicks: gXTicks, xMinor: gXMinor, xLabY: 964, size: 11.5, frame: "#999", out: true, major: 3.5, minor: 2});
  label(g, "x-axis-title", "Binding energy (eV)", 215.7, 983.3, 13, {anchor: "middle"});
  label(g, "y-axis-title", "Intensity (a.u.)", 58.3, 729, 12.5, {anchor: "middle", rotate: true});
  label(g, "sample-label-lair", "LaIr-Co_{3}O_{4}", 78.3, 553.3, 13.5);
  label(g, "sample-label-ir", "Ir-Co_{3}O_{4}", 80.7, 783.3, 13.5);
  label(g, "region-label", "Co 2*p*", 329.3, 545, 13.5);
  label(g, "peak-label-2p32", "Co 2*p*_{3/2}", 265, 568.3, 13.5);
  label(g, "peak-label-2p12", "Co 2*p*_{1/2}", 165.7, 601, 13.5);
  label(g, "peak-label-coii", "Co^{II}", 309, 621.7, 14);
  label(g, "peak-label-coiii", "Co^{III}", 331.7, 710, 14);
  label(g, "peak-label-coii", "Co^{II}", 307.3, 826.7, 14);
  label(g, "peak-label-coiii", "Co^{III}", 331.7, 914.3, 14);
})();
(function(){
  const g = grp(fig, "panel-h-xps-ir4f");
  const sx = scale(72, 57, 409, 715), sy = scale(0, 100, 949.3, 527.3);
  const draw = (name, A) => {
    const p = grp(g, name);
    peak(p, "peak-co3p", A.co, A.base, sx, sy, "#d2d2d2");
    peak(p, "peak-iriv-5-2", A.iv1, A.base, sx, sy, "#ef9f8f");
    peak(p, "peak-iriv-7-2", A.iv2, A.base, sx, sy, "#df7b93");
    peak(p, "peak-iriii-7-2", A.iii2, A.base, sx, sy, "#6fc2b6", .82);
    peak(p, "peak-iriii-5-2", A.iii1, A.base, sx, sy, "#5b9acb", .85);
    line(p, "shirley-baseline", A.base, sx, sy, "#555", .7);
    envelope(p, "envelope", A.env, sx, sy, 9.5, "#777");
  };
  draw("lair-spectrum", {base: hTopBase, env: hTopEnv, iii1: hTopIr3a, iv1: hTopIr4a, iii2: hTopIr3b, iv2: hTopIr4b, co: hTopCo3p});
  draw("ir-spectrum", {base: hBotBase, env: hBotEnv, iii1: hBotIr3a, iv1: hBotIr4a, iii2: hBotIr3b, iv2: hBotIr4b, co: hBotCo3p});
  straight(g, "guide-line-5-2-lair", 548.3, 581.7, 548.3, 716, "#999", .8, "4 2");
  straight(g, "guide-line-7-2-lair", 609, 555, 609, 776.7, "#222", .9, "4 2");
  straight(g, "guide-line-5-2-ir", 552, 710, 552, 801.7, "#222", .9, "4 2");
  straight(g, "guide-line-7-2-ir", 612.3, 733, 612.3, 796.7, "#999", .8, "4 2");
  arrow(g, "shift-arrow-5-2", 553.3, 749, 539, 749, "#222", .8, 4);
  arrow(g, "shift-arrow-7-2", 615, 732.3, 599.3, 732.3, "#222", .8, 4);
  label(g, "shift-label-5-2", "+0.21 eV", 502.3, 760.7, 10.5);
  label(g, "shift-label-7-2", "+0.22 eV", 563.3, 745, 10.5);
  axes(g, {x0: 409, x1: 725.7, yT: 527.3, yB: 949.3, sx, sy, xTicks: hXTicks, xMinor: hXMinor, xLabY: 963.5, size: 11.5, out: true, major: 3.5, minor: 2});
  label(g, "x-axis-title", "Binding energy (eV)", 567, 982, 13.6, {anchor: "middle"});
  label(g, "y-axis-title", "Intensity (a.u.)", 398, 739, 13.2, {anchor: "middle", rotate: true});
  label(g, "sample-label-lair", "LaIr-Co_{3}O_{4}", 415.7, 548, 12.5);
  label(g, "sample-label-ir", "Ir-Co_{3}O_{4}", 418.3, 783.3, 12.5);
  label(g, "region-label", "Ir 4*f*", 690, 540, 12);
  label(g, "peak-label-4f72", "Ir 4*f*_{7/2}", 616, 563.3, 12.5);
  label(g, "peak-label-4f52", "Ir 4*f*_{5/2}", 501.7, 588.3, 12.5);
  const ir = [["Ir^{III}",491.7,660.7],["Ir^{IV}",530.7,641.7],["Ir^{III}",576,646.7],["Ir^{IV}",622.7,660],["Ir^{III}",490.7,866.7],["Ir^{IV}",550,844],["Ir^{III}",590.7,840],["Ir^{IV}",631,878.3]];
  ir.forEach(r => label(g, "oxidation-state-label", r[0], r[1], r[2], 13));
  label(g, "peak-label-co3p", "Co 3*p*", 676.7, 674, 12.5);
  label(g, "peak-label-co3p", "Co 3*p*", 680.7, 886.7, 12.5);
  arrow(g, "co3p-arrow", 666.7, 696, 683.3, 679.3, "#222", .9, 4.5);
  arrow(g, "co3p-arrow", 671.7, 911.7, 688.3, 894, "#222", .9, 4.5);
})();

// ---------- i ----------
(function(){
  const g = grp(fig, "panel-i-xanes-co");
  const sx = scale(7680, 7780, 775.7, 1027.3), sy = scale(0, 1.8, 715.7, 516);
  mk("rect", g, {x: 856.3, y: 619.3, width: 41.4, height: 54, fill: "#d9d9d9", stroke: "#dd9a9a", "stroke-width": .9}, "zoom-region-box");
  line(g, "co-foil-line", iFoil, sx, sy, DARK, 1.4);
  line(g, "lair-co3o4-line", iLaIr, sx, sy, TEAL, 1.6);
  line(g, "ir-co3o4-line", iIrCo, sx, sy, "#6aa9d0", 1.5);
  line(g, "co3o4-line", iCo3O4, sx, sy, "#f0aba3", 1.4);
  line(g, "coo-line", iCoO, sx, sy, "#574fa6", 1.5);
  axes(g, {x0: 775.7, x1: 1027.3, yT: 516, yB: 715.7, sx, sy, xTicks: iXTicks, xMinor: iXMinor, yTicks: iYTicks, yMinor: iYMinor, yFmt: v => v.toFixed(1), xLabY: 729, yLabX: 769.3, size: 11, frame: "#888"});
  label(g, "x-axis-title", "Energy (eV)", 900.7, 747.3, 12.5, {anchor: "middle"});
  label(g, "y-axis-title", "Normalized data (a.u.)", 743.3, 615, 11.7, {anchor: "middle", rotate: true});
  legendLine(g, 780, 805, 525, 807.3, "Co-foil", DARK, 10.5);
  legendLine(g, 780, 805, 539, 807.3, "LaIr-Co_{3}O_{4}", TEAL, 10.5);
  legendLine(g, 780, 805, 554.3, 807.3, "Ir-Co_{3}O_{4}", "#6aa9d0", 10.5);
  legendLine(g, 780, 805, 570, 807.3, "Co_{3}O_{4}", "#f0aba3", 10.5);
  legendLine(g, 780, 805, 586, 807.3, "CoO", "#574fa6", 10.5);
  label(g, "edge-label", "Co *K*-edge", 947.7, 532.3, 14);
  // inset
  const ins = grp(g, "inset-edge-zoom");
  const ix = scale(7716, 7728, 933.7, 1008), iy = scale(.4, .8, 702.3, 629.3);
  mk("rect", ins, {x: 924, y: 629.3, width: 91, height: 73, fill: "#fff", stroke: "#bbb", "stroke-width": 1}, "inset-frame");
  const cl = grp(ins, "inset-curves", {"clip-path": "url(#clipInset)"});
  line(cl, "co-foil-inset", iFoil, ix, iy, DARK, .8);
  line(cl, "lair-inset", iLaIr, ix, iy, TEAL, .8, {"stroke-dasharray": "3 1"});
  line(cl, "ir-inset", iIrCo, ix, iy, "#5b93c4", .8, {"stroke-dasharray": "3 1"});
  line(cl, "co3o4-inset", iCo3O4, ix, iy, "#f0aba3", .8);
  line(cl, "coo-inset", iCoO, ix, iy, "#574fa6", .9, {"stroke-dasharray": "4 1"});
  straight(ins, "inset-y-axis", 924, 629.3, 924, 702.3, "#555", 1);
  straight(ins, "inset-x-axis", 924, 702.3, 1015, 702.3, "#555", 1);
  insetXTicks.forEach(v => {
    straight(ins, "inset-x-tick", ix(v), 702.3, ix(v), 700, "#555", .7);
    label(ins, "inset-x-tick-label", String(v), ix(v), 709, 7.5, {anchor: "middle"});
  });
  insetYTicks.forEach(v => {
    straight(ins, "inset-y-tick", 924, iy(v), 926, iy(v), "#555", .7);
    label(ins, "inset-y-tick-label", v.toFixed(1), 921.5, iy(v) + 2.7, 7.5, {anchor: "end"});
  });
})();

// ---------- j ----------
(function(){
  const g = grp(fig, "panel-j-xanes-ir");
  const sx = scale(11180, 11280, 779, 1028.3), sy = scale(0, 3.5, 954, 756);
  arrow(g, "intensity-arrow", 871.7, 875, 879, 791, "#333", 1, 7);
  line(g, "ir-foil-line", jFoil, sx, sy, DARK, 1.4);
  line(g, "lair-co3o4-line", jLaIr, sx, sy, TEAL, 1.6);
  line(g, "ir-co3o4-line", jIrCo, sx, sy, "#6aa9d0", 1.6);
  line(g, "iro2-line", jIrO2, sx, sy, "#e27a6e", 1.6);
  axes(g, {x0: 779, x1: 1028.3, yT: 756, yB: 954, sx, sy, xTicks: jXTicks, xMinor: jXMinor, yTicks: jYTicks, yMinor: jYMinor, yFmt: v => v.toFixed(1), xLabY: 966.7, yLabX: 774.3, size: 11, frame: "#888"});
  label(g, "x-axis-title", "Energy (eV)", 903, 985.7, 12.5, {anchor: "middle"});
  label(g, "y-axis-title", "Normalized data (a.u.)", 747.7, 849.3, 11.5, {anchor: "middle", rotate: true});
  legendLine(g, 785, 811, 765.7, 814, "Ir-foil", DARK, 10.5);
  legendLine(g, 785, 811, 781, 814, "LaIr-Co_{3}O_{4}", TEAL, 10.5);
  legendLine(g, 785, 811, 796.7, 814, "Ir-Co_{3}O_{4}", "#6aa9d0", 10.5);
  legendLine(g, 785, 811, 813.3, 814, "IrO_{2}", "#e27a6e", 10.5);
  label(g, "transition-label", "*2s→5d*", 886.7, 780.7, 11.5);
  label(g, "edge-label", "Ir *L*_{3}-edge", 955.7, 772.7, 13.5);
})();

// ---------- letters + watermark ----------
letters.forEach(r => label(fig, "panel-letter-" + r[0], r[0], r[1], r[2], 25));
(function(){
  const g = grp(fig, "watermark");
  mk("path", g, {d: "M13 990 Q12 1007 26 1007 Q38 1006 39 994 M26 992 Q35 1001 24 1001", fill: "none", stroke: "#bdbdbd", "stroke-width": 2.6}, "watermark-logo-swirl");
  mk("circle", g, {cx: 31, cy: 987, r: 3.5, fill: "#fff", stroke: "#bdbdbd", "stroke-width": 1.8}, "watermark-logo-dot");
  mk("circle", g, {cx: 41, cy: 986, r: 4, fill: "#fff", stroke: "#bdbdbd", "stroke-width": 1.8}, "watermark-logo-dot");
  const t = label(g, "watermark-text", "大数跨境", 54, 1004, 21.5, {fill: "#f6f6f6", weight: "bold"});
  t.setAttribute("stroke", "#a8a8a8");
  t.setAttribute("stroke-width", "1");
})();
</script>
</body>
</html>
